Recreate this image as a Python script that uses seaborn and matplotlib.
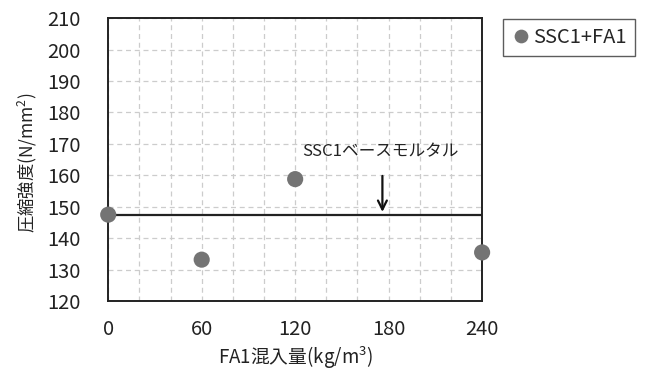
import numpy as np
import matplotlib
matplotlib.use("Agg")
import matplotlib.pyplot as plt
import seaborn as sns
import pandas as pd

# data
fa1_amount = [0, 60, 120, 240]
strength = [147.5, 133.2, 158.8, 135.5]
base_mortar = 147.5
series_name = "SSC1+FA1"

sns.set_theme(style="white")
plt.rcParams['font.family'] = ['Noto Sans CJK JP', 'DejaVu Sans']

df = pd.DataFrame({"x": fa1_amount, "y": strength, "s": series_name})

fig = plt.figure(figsize=(6.48, 3.76), dpi=100)
ax = fig.add_axes([0.167, 0.199, 0.577, 0.753])

sns.scatterplot(data=df, x="x", y="y", hue="s", palette=["#747474"], s=135,
                edgecolor="none", ax=ax, clip_on=False, zorder=5)
ax.axhline(base_mortar, color="#222222", lw=1.6, zorder=4)

ax.set_xlim(0, 240)
ax.set_ylim(120, 210)
ax.set_xticks([0, 60, 120, 180, 240])
ax.set_yticks(np.arange(120, 211, 10))
ax.set_xticks(np.arange(0, 241, 20), minor=True)
ax.grid(True, which="both", axis="x", ls=(0, (4, 3)), color="#cccccc", lw=0.9)
ax.grid(True, which="major", axis="y", ls=(0, (4, 3)), color="#cccccc", lw=0.9)
ax.tick_params(axis="both", which="major", direction="in", length=5, width=1,
               color="#222222", labelsize=14.5, labelcolor="#222222")
ax.tick_params(axis="y", which="major", pad=20)
ax.tick_params(axis="x", which="major", pad=13)
ax.tick_params(axis="x", which="minor", length=0)
for sp in ax.spines.values():
    sp.set_color("#222222")
    sp.set_linewidth(1.4)

ax.set_xlabel("FA1混入量(kg/m$\\mathregular{^3}$)", fontsize=13.5, color="#222222")
ax.xaxis.set_label_coords(0.5, -0.2)
ax.xaxis.label.set_va("center")
ax.set_ylabel("圧縮強度(N/mm$\\mathregular{^2}$)", fontsize=12.5, color="#222222")
ax.yaxis.set_label_coords(-0.215, 0.49)
ax.yaxis.label.set_va("center")

ax.annotate("", xy=(176, base_mortar), xytext=(176, 160.7),
            arrowprops=dict(arrowstyle="->", color="#111111", lw=1.6,
                            mutation_scale=16), zorder=6)
ax.text(174.5, 167.6, "SSC1ベースモルタル", fontsize=12, ha="center", va="center",
        color="#222222")

leg = ax.legend(loc="upper left", bbox_to_anchor=(1.056, 0.996), frameon=True,
                fancybox=False, edgecolor="#333333", fontsize=14.5,
                handletextpad=0.1, borderpad=0.4, handlelength=1.0,
                markerscale=0.85, borderaxespad=0)
leg.get_frame().set_linewidth(1.0)

fig.savefig("out.png", dpi=100)
